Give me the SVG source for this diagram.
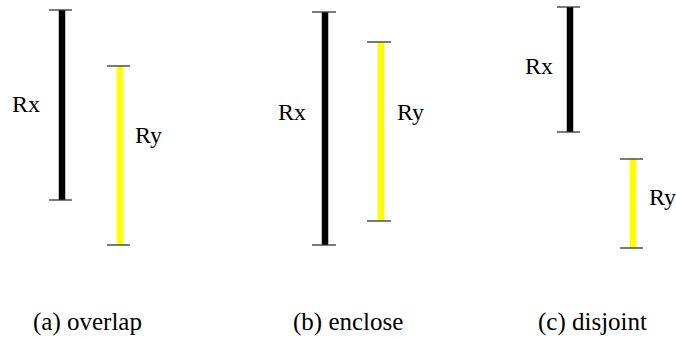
<svg xmlns="http://www.w3.org/2000/svg" width="676" height="337" viewBox="0 0 676 337">
<style>
.lbl{font-size:24px}
.cap{font-size:25px}
.bx{stroke:#000;stroke-width:6.5}
.by{stroke:#ffff00;stroke-width:6.5}
.tick{stroke:#333;stroke-width:1.3}
</style>
<rect width="676" height="337" fill="#fff"/>
<g font-family="Liberation Serif, Times New Roman, DejaVu Serif, serif" fill="#000">
<g id="overlap">
<g id="a-rx">
<line class="bx" x1="62" y1="10" x2="62" y2="200"/>
<line class="tick" x1="49" y1="10" x2="72" y2="10"/>
<line class="tick" x1="49" y1="200" x2="72" y2="200"/>
<text class="lbl" x="12" y="112">Rx</text>
</g>
<g id="a-ry">
<line class="by" x1="120" y1="66" x2="120" y2="245"/>
<line class="tick" x1="107" y1="66" x2="130" y2="66"/>
<line class="tick" x1="107" y1="245" x2="130" y2="245"/>
<text class="lbl" x="135" y="143">Ry</text>
</g>
<text class="cap" x="33" y="330">(a) overlap</text>
</g>
<g id="enclose">
<g id="b-rx">
<line class="bx" x1="325" y1="12" x2="325" y2="245"/>
<line class="tick" x1="312" y1="12" x2="336" y2="12"/>
<line class="tick" x1="312" y1="245" x2="336" y2="245"/>
<text class="lbl" x="278" y="120">Rx</text>
</g>
<g id="b-ry">
<line class="by" x1="381" y1="42" x2="381" y2="221"/>
<line class="tick" x1="367" y1="42" x2="391" y2="42"/>
<line class="tick" x1="367" y1="221" x2="391" y2="221"/>
<text class="lbl" x="397" y="120">Ry</text>
</g>
<text class="cap" x="293" y="330">(b) enclose</text>
</g>
<g id="disjoint">
<g id="c-rx">
<line class="bx" x1="570" y1="7" x2="570" y2="132"/>
<line class="tick" x1="557" y1="7" x2="580" y2="7"/>
<line class="tick" x1="557" y1="132" x2="580" y2="132"/>
<text class="lbl" x="525" y="74">Rx</text>
</g>
<g id="c-ry">
<line class="by" x1="633" y1="159" x2="633" y2="248"/>
<line class="tick" x1="620" y1="159" x2="643" y2="159"/>
<line class="tick" x1="620" y1="248" x2="643" y2="248"/>
<text class="lbl" x="649" y="205">Ry</text>
</g>
<text class="cap" x="538" y="330">(c) disjoint</text>
</g>
</g>
<g id="connectors"/>
</svg>
